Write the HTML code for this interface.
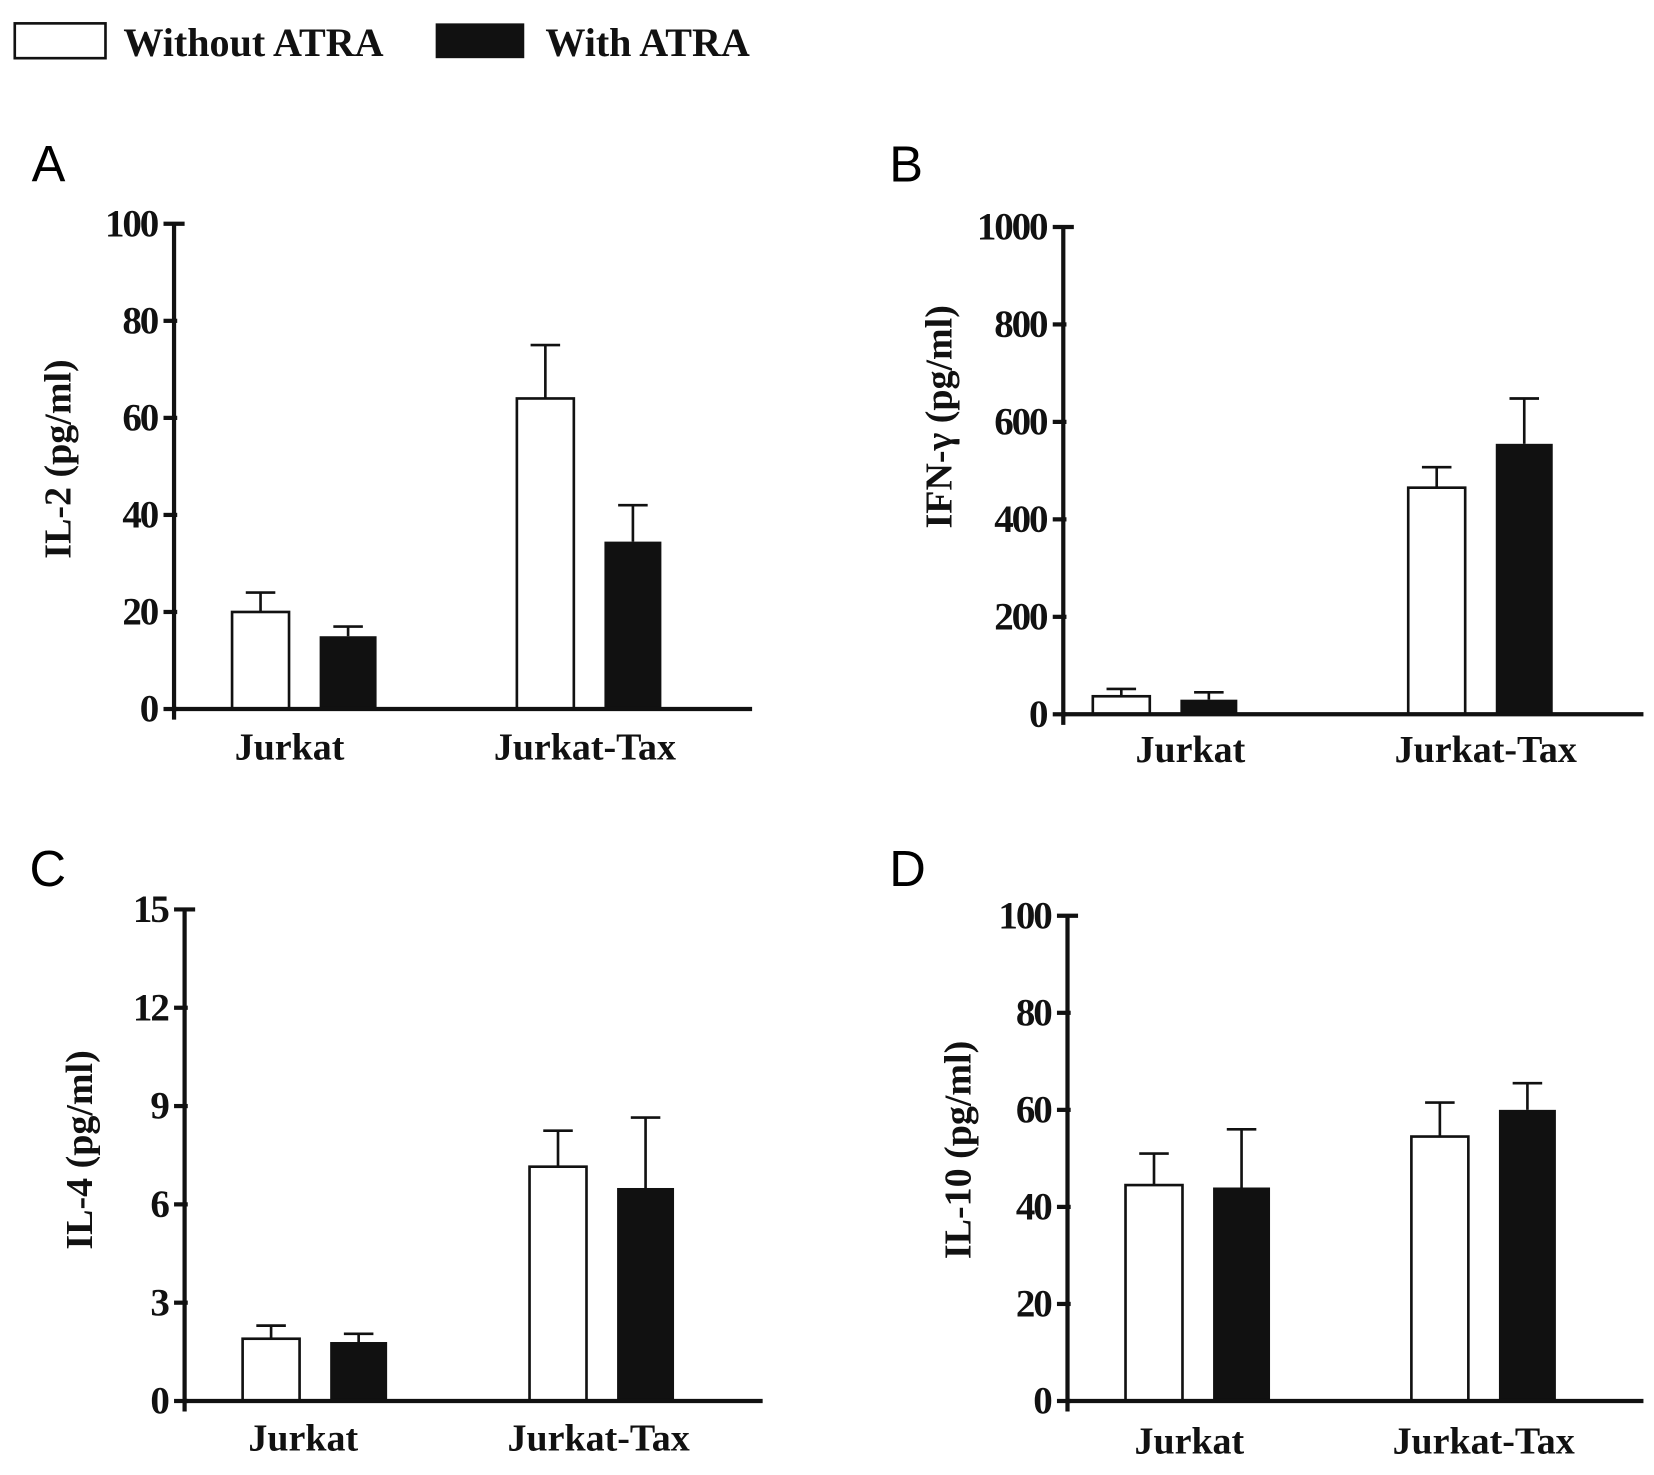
<!DOCTYPE html>
<html><head><meta charset="utf-8"><style>
html,body{margin:0;padding:0;background:#fff;}
svg{display:block;}
.tk{font-family:"Liberation Serif",serif;font-weight:bold;font-size:37px;letter-spacing:-2px;fill:#111;}
.cat{font-family:"Liberation Serif",serif;font-weight:bold;font-size:36px;fill:#111;}
.ttl{font-family:"Liberation Serif",serif;font-weight:bold;font-size:36px;fill:#111;}
.pl{font-family:"Liberation Sans",sans-serif;font-size:48px;fill:#000;}
.lg{font-family:"Liberation Serif",serif;font-weight:bold;font-size:38px;fill:#111;}
</style></head><body>
<svg id="fig" width="1654" height="1475" viewBox="0 0 1568 1398" xmlns="http://www.w3.org/2000/svg">
<g>
<rect x="14" y="22" width="86" height="33" fill="#fff" stroke="#111" stroke-width="2.5"/>
<text class="lg" x="117" y="53">Without ATRA</text>
<rect x="413" y="22" width="84" height="33" fill="#111"/>
<text class="lg" x="517" y="53">With ATRA</text>
</g>
</svg>
<script>
const categories = ["Jurkat", "Jurkat-Tax"];
const il2Without = [20, 64], il2WithoutErr = [24, 75];
const il2With = [15, 34.5], il2WithErr = [17, 42];
const ifnWithout = [37, 465], ifnWithoutErr = [52, 507];
const ifnWith = [30, 555], ifnWithErr = [45, 648];
const il4Without = [1.9, 7.15], il4WithoutErr = [2.3, 8.25];
const il4With = [1.8, 6.5], il4WithErr = [2.05, 8.65];
const il10Without = [44.5, 54.5], il10WithoutErr = [51, 61.5];
const il10With = [44, 60], il10WithErr = [56, 65.5];
const il2Ticks = [0, 20, 40, 60, 80, 100];
const ifnTicks = [0, 200, 400, 600, 800, 1000];
const il4Ticks = [0, 3, 6, 9, 12, 15];
const il10Ticks = [0, 20, 40, 60, 80, 100];

const NS = "http://www.w3.org/2000/svg";
const svg = document.getElementById('fig');
function mk(tag, attrs, parent, txt){
  const e = document.createElementNS(NS, tag);
  for (const k in attrs) e.setAttribute(k, attrs[k]);
  if (txt !== undefined) e.textContent = txt;
  parent.appendChild(e);
  return e;
}
const panels = [
  {id:'a', letter:'A', lx:30, ly:172, ax:165, top:212, bot:672, xr:713, title:'IL-2 (pg/ml)', tx:55, ty:435,
   ticks:il2Ticks, w:il2Without, we:il2WithoutErr, b:il2With, be:il2WithErr, bx:[220,490], catY:720, co:[-14,-4]},
  {id:'b', letter:'B', lx:843, ly:172, ax:1008, top:215, bot:677, xr:1558, title:'IFN-γ (pg/ml)', tx:890, ty:395,
   ticks:ifnTicks, w:ifnWithout, we:ifnWithoutErr, b:ifnWith, be:ifnWithErr, bx:[1036,1335], catY:722, co:[24,5]},
  {id:'c', letter:'C', lx:28, ly:840, ax:175, top:862, bot:1328, xr:723, title:'IL-4 (pg/ml)', tx:75, ty:1090,
   ticks:il4Ticks, w:il4Without, we:il4WithoutErr, b:il4With, be:il4WithErr, bx:[230,502], catY:1375, co:[-11,-3]},
  {id:'d', letter:'D', lx:843, ly:840, ax:1012, top:868, bot:1328, xr:1558, title:'IL-10 (pg/ml)', tx:908, ty:1090,
   ticks:il10Ticks, w:il10Without, we:il10WithoutErr, b:il10With, be:il10WithErr, bx:[1067,1338], catY:1378, co:[-8,0]}
];
panels.forEach(p => {
  const g = mk('g', {}, svg);
  
  
  const max = p.ticks[p.ticks.length-1];
  const y = v => p.bot - (v / max) * (p.bot - p.top);
  const lab = mk('text', {class:'pl', x:p.lx, y:p.ly}, g, p.letter);
  
  
  const tt = mk('text', {class:'ttl', x:0, y:0, 'text-anchor':'middle', transform:`translate(${p.tx+12},${p.ty}) rotate(-90)`}, g, p.title);
  
  
  const BW = 54, GAP = 29;
  categories.forEach((c, i) => {
    const x0 = p.bx[i];
    const x1 = x0 + BW + GAP;
    [[x0, p.we[i], p.w[i]], [x1, p.be[i], p.b[i]]].forEach(([bx, e, v]) => {
      const cx = bx + BW/2;
      const l = mk('line', {x1:cx, x2:cx, y1:y(v), y2:y(e), stroke:'#111', 'stroke-width':2.5}, g);
      
      
      const cap = mk('line', {x1:cx-14, x2:cx+14, y1:y(e), y2:y(e), stroke:'#111', 'stroke-width':2.5}, g);
      
      
    });
    const r1 = mk('rect', {x:x0, y:y(p.w[i]), width:BW, height:p.bot - y(p.w[i]), fill:'#fff', stroke:'#111', 'stroke-width':2.5}, g);
    
    
    const r2 = mk('rect', {x:x1, y:y(p.b[i]), width:BW, height:p.bot - y(p.b[i]), fill:'#111'}, g);
    
    
    const ct = mk('text', {class:'cat', x:(x0 + x1 + BW)/2 + p.co[i], y:p.catY, 'text-anchor':'middle'}, g, c);
    
    
  });
  const ya = mk('line', {x1:p.ax, x2:p.ax, y1:p.top, y2:p.bot+10, stroke:'#111', 'stroke-width':4}, g);
  
  
  const xa = mk('line', {x1:p.ax, x2:p.xr, y1:p.bot, y2:p.bot, stroke:'#111', 'stroke-width':4}, g);
  
  
  p.ticks.forEach(t => {
    const tl = mk('line', {x1:p.ax-10, x2:p.ax + (t===max?10:3), y1:y(t), y2:y(t), stroke:'#111', 'stroke-width':4}, g);
    
    
    const tx = mk('text', {class:'tk', x:p.ax-16, y:y(t)+12, 'text-anchor':'end'}, g, String(t));
    
    
  });
});
</script>
</body></html>
